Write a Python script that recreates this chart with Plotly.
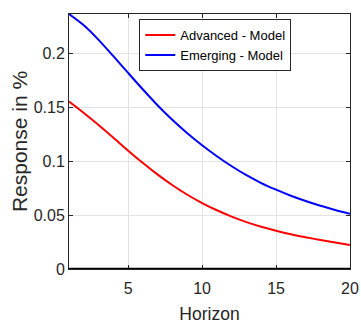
import plotly.graph_objects as go

horizon = list(range(1, 21))
advanced = [0.1556, 0.1450, 0.1338, 0.1220, 0.1100, 0.0985, 0.0877, 0.0778, 0.0690, 0.0613,
            0.0546, 0.0487, 0.0436, 0.0393, 0.0356, 0.0323, 0.0295, 0.0270, 0.0247, 0.0224]
emerging = [0.2370, 0.2265, 0.2130, 0.1978, 0.1822, 0.1668, 0.1520, 0.1385, 0.1262, 0.1150,
            0.1048, 0.0955, 0.0872, 0.0799, 0.0737, 0.0681, 0.0632, 0.0588, 0.0549, 0.0513]
x_ticks = [5, 10, 15, 20]
y_ticks = [0, 0.05, 0.1, 0.15, 0.2]
y_tick_labels = ["0", "0.05", "0.1", "0.15", "0.2"]

FONT = "Liberation Sans, Arial, Helvetica, sans-serif"
AX = "#262626"

fig = go.Figure()
fig.add_trace(go.Scatter(x=horizon, y=advanced, mode="lines", name="Advanced - Model",
                         line=dict(color="#FF0000", width=2, shape="spline", smoothing=0.8)))
fig.add_trace(go.Scatter(x=horizon, y=emerging, mode="lines", name="Emerging - Model",
                         line=dict(color="#0000FF", width=2, shape="spline", smoothing=0.8)))

fig.add_shape(type="line", xref="paper", x0=0, x1=1, yref="y", y0=0, y1=0,
              line=dict(color="black", width=2.5))

fig.update_layout(
    width=361, height=324,
    margin=dict(l=69, r=11, t=14, b=55),
    paper_bgcolor="white", plot_bgcolor="white",
    font=dict(family=FONT, color=AX, size=16),
    legend=dict(x=0.25, y=0.98, xanchor="left", yanchor="top",
                bgcolor="white", bordercolor=AX, borderwidth=1,
                font=dict(size=13, color="black"), tracegroupgap=0,
                itemwidth=30),
    xaxis=dict(range=[1, 20], tickvals=x_ticks, showgrid=True, gridcolor="#E3E3E3", gridwidth=1,
               showline=True, linecolor=AX, linewidth=1, mirror="ticks",
               ticks="inside", ticklen=4, tickcolor=AX, zeroline=False, automargin=False,
               tickfont=dict(size=16, color=AX), ticklabelstandoff=5,
               title=dict(text="Horizon", font=dict(size=17.5, color=AX), standoff=14)),
    yaxis=dict(range=[0, 0.237], tickvals=y_ticks, ticktext=y_tick_labels, showgrid=True,
               gridcolor="#E3E3E3", gridwidth=1,
               showline=True, linecolor=AX, linewidth=1, mirror="ticks",
               ticks="inside", ticklen=4, tickcolor=AX, zeroline=False, automargin=False,
               tickfont=dict(size=16, color=AX),
               title=dict(text="Response in %", font=dict(size=21, color=AX), standoff=0)),
)

fig.write_html("out.html")
